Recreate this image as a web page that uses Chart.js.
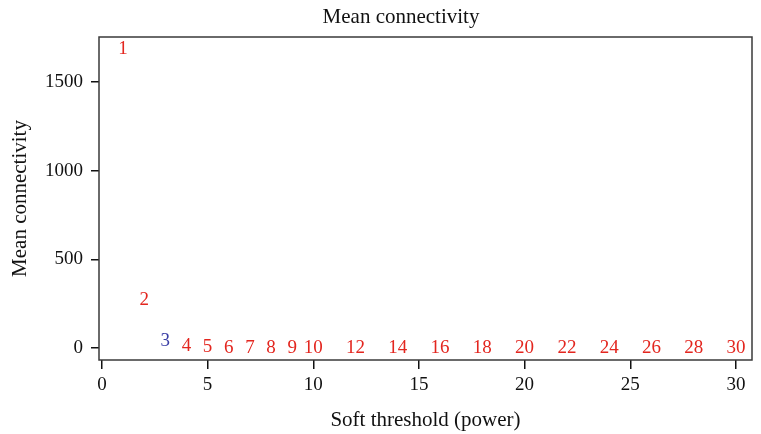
<!DOCTYPE html>
<html>
<head>
<meta charset="utf-8">
<script src="https://cdn.jsdelivr.net/npm/chart.js@4/dist/chart.umd.min.js"></script>
<style>
  html, body { margin: 0; padding: 0; background: #fff; }
  #wrap { width: 761px; height: 434px; }
</style>
</head>
<body>
<div id="wrap"><canvas id="c" width="761" height="434"></canvas></div>
<script>
// Soft-threshold powers and the resulting mean connectivity
const powers = [1, 2, 3, 4, 5, 6, 7, 8, 9, 10, 12, 14, 16, 18, 20, 22, 24, 26, 28, 30];
const meanConnectivity = [1685, 270, 40, 12, 5, 2.5, 1.4, 0.9, 0.6, 0.4, 0.2, 0.12, 0.07, 0.05, 0.03, 0.02, 0.015, 0.01, 0.008, 0.006];
const selectedPower = 3;
const xTickValues = [0, 5, 10, 15, 20, 25, 30];
const yTickValues = [0, 500, 1000, 1500];
const chartTitle = 'Mean connectivity';

const FONT = "'Liberation Serif', 'DejaVu Serif', serif";
const RED = '#e3261f';
const BLUE = '#3b3fa6';

const points = powers.map((p, i) => ({ x: p, y: meanConnectivity[i] }));

// Draws the frame, the heading and each power as a text label at its point
const powerLabels = {
  id: 'powerLabels',
  afterDatasetsDraw(chart) {
    const { ctx, chartArea: a, scales: { x, y } } = chart;
    ctx.save();
    ctx.strokeStyle = '#3a3a3a';
    ctx.lineWidth = 1.5;
    ctx.strokeRect(a.left, a.top, a.right - a.left, a.bottom - a.top);

    ctx.textAlign = 'center';
    ctx.textBaseline = 'middle';
    ctx.fillStyle = '#111';
    ctx.font = '21px ' + FONT;
    ctx.fillText(chartTitle, 401, 17);

    ctx.font = '19px ' + FONT;
    powers.forEach((p, i) => {
      ctx.fillStyle = p === selectedPower ? BLUE : RED;
      ctx.fillText(String(p), x.getPixelForValue(p), y.getPixelForValue(meanConnectivity[i]));
    });
    ctx.restore();
  }
};

new Chart(document.getElementById('c'), {
  type: 'scatter',
  data: {
    datasets: [{
      data: points,
      pointRadius: 0,
      pointHoverRadius: 0,
      showLine: false
    }]
  },
  options: {
    responsive: false,
    animation: false,
    events: [],
    layout: { padding: { top: 37, right: 9, bottom: 1, left: 0 } },
    plugins: {
      legend: { display: false },
      tooltip: { enabled: false },
      title: { display: false }
    },
    scales: {
      x: {
        type: 'linear',
        min: -0.14,
        max: 30.76,
        afterBuildTicks(s) { s.ticks = xTickValues.map(v => ({ value: v })); },
        afterFit(s) { s.height = 73; },
        border: { display: false },
        grid: { drawOnChartArea: false, tickLength: 9, color: '#111', lineWidth: 1.5 },
        ticks: { color: '#111', padding: 5, font: { family: FONT, size: 19 }, callback: v => String(v) },
        title: {
          display: true,
          text: 'Soft threshold (power)',
          color: '#111',
          font: { family: FONT, size: 21 },
          padding: { top: 6, bottom: 0 }
        }
      },
      y: {
        type: 'linear',
        min: -67,
        max: 1752,
        afterBuildTicks(s) { s.ticks = yTickValues.map(v => ({ value: v })); },
        afterFit(s) { s.width = 99; },
        border: { display: false },
        grid: { drawOnChartArea: false, tickLength: 8, color: '#111', lineWidth: 1.5 },
        ticks: { color: '#111', padding: 8, font: { family: FONT, size: 19 }, callback: v => String(v) },
        title: {
          display: true,
          text: 'Mean connectivity',
          color: '#111',
          font: { family: FONT, size: 21 },
          padding: { top: 8, bottom: 4 }
        }
      }
    }
  },
  plugins: [powerLabels]
});
</script>
</body>
</html>
